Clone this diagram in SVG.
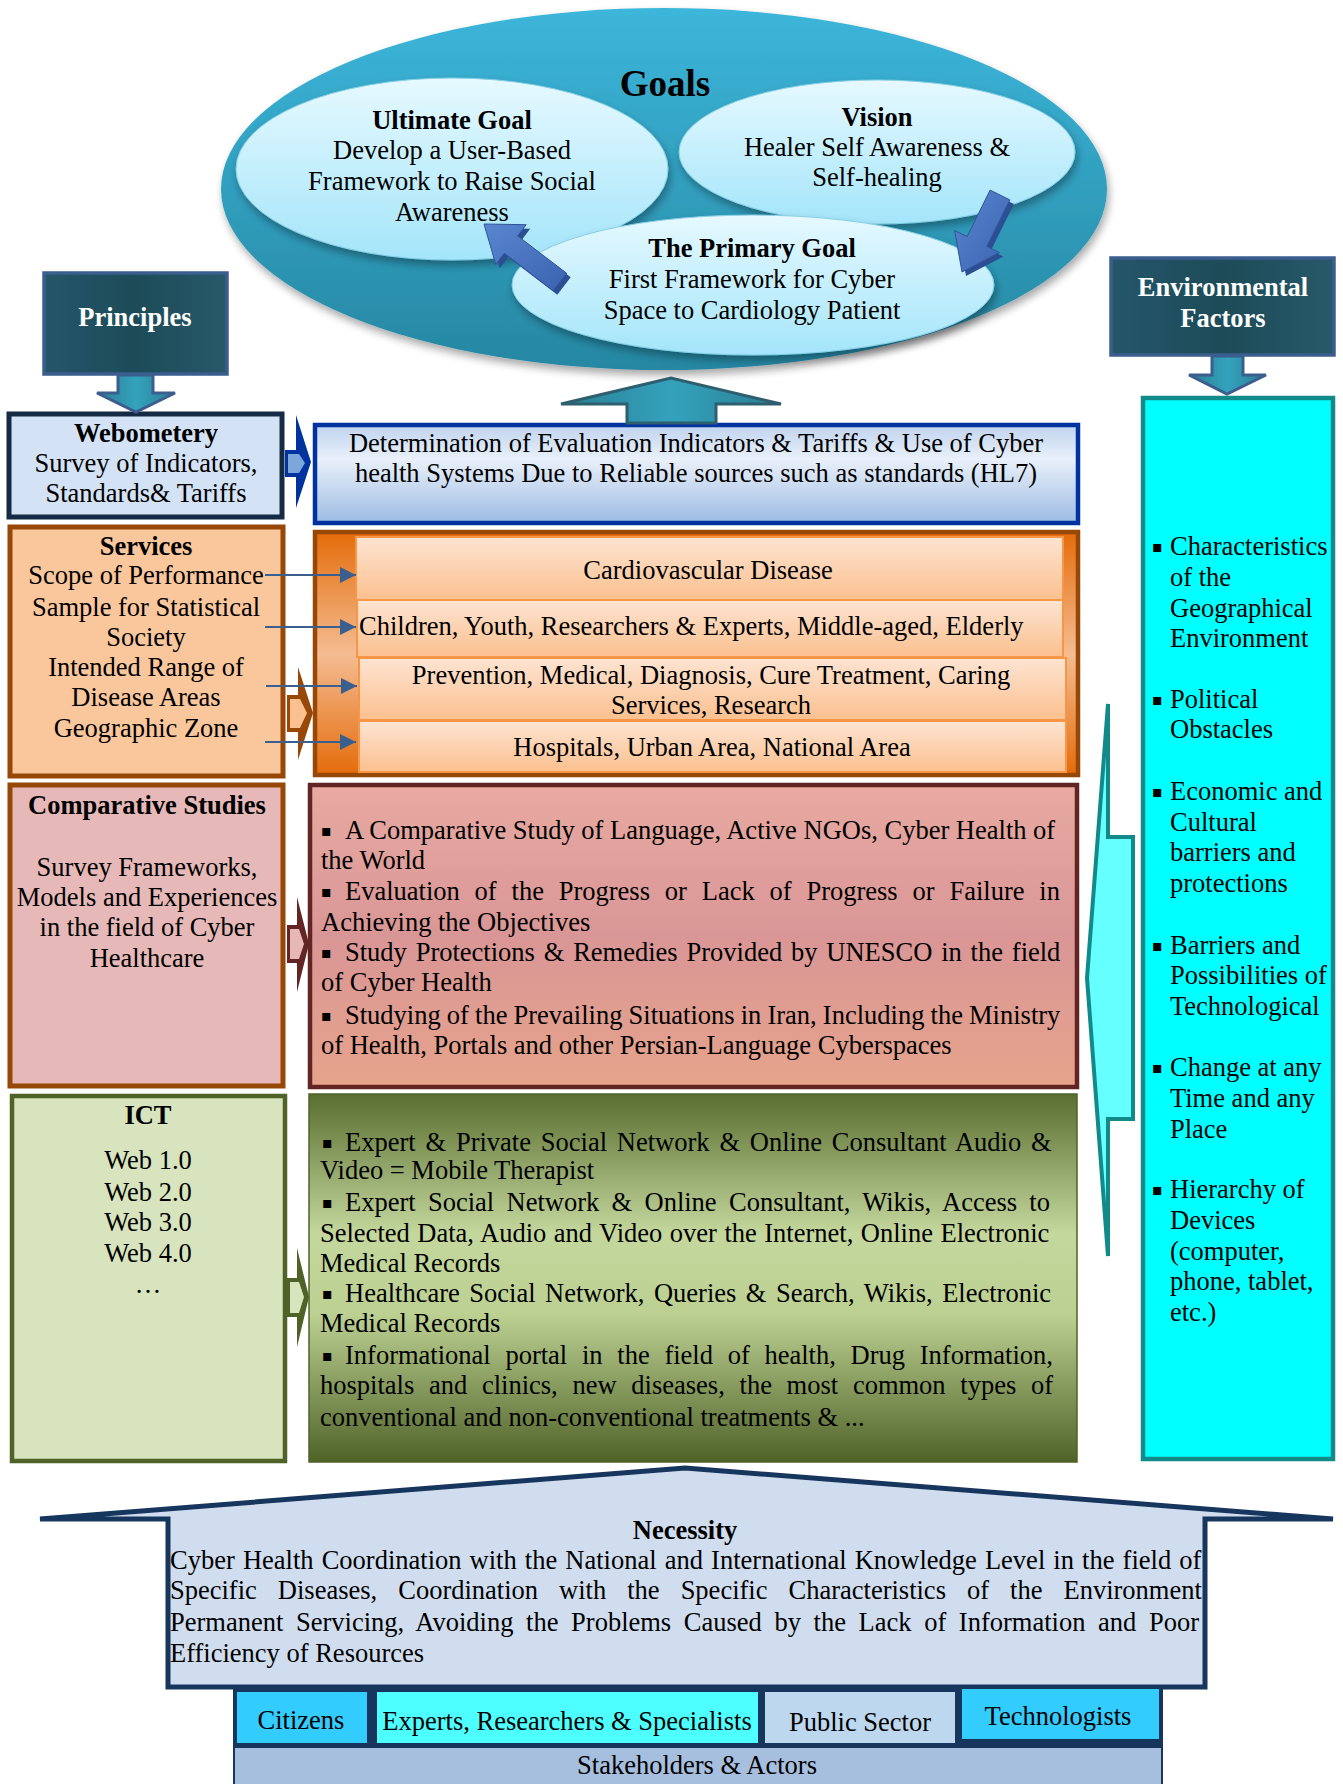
<svg xmlns="http://www.w3.org/2000/svg" width="1343" height="1784" viewBox="0 0 1343 1784">
<style>
.t{font-family:"Liberation Serif","Times New Roman",serif;font-size:26.5px;fill:#000}
.b{font-weight:bold}
.c{text-anchor:middle}
.w{fill:#fff}
.bl{font-family:"DejaVu Sans",sans-serif;font-size:16px;fill:#000}
.conn{stroke:#3A5F8F;stroke-width:2.2;fill:none}
</style>
<defs>
<linearGradient id="gBig" x1="0" y1="0" x2="0" y2="1"><stop offset="0" stop-color="#3CB6DA"/><stop offset="1" stop-color="#2687A2"/></linearGradient>
<linearGradient id="gSmall" x1="0" y1="0" x2="0" y2="1"><stop offset="0" stop-color="#E6F9FF"/><stop offset="1" stop-color="#A4E5FA"/></linearGradient>
<linearGradient id="gDark" x1="0" y1="0" x2="1" y2="0"><stop offset="0" stop-color="#24566A"/><stop offset="0.5" stop-color="#1D4B58"/><stop offset="1" stop-color="#27596A"/></linearGradient>
<linearGradient id="gTeal" x1="0" y1="0" x2="1" y2="0"><stop offset="0" stop-color="#2A7E92"/><stop offset="0.5" stop-color="#34A2BD"/><stop offset="1" stop-color="#2A7E92"/></linearGradient>
<linearGradient id="gDet" x1="0" y1="0" x2="0" y2="1"><stop offset="0" stop-color="#BFD3EE"/><stop offset="0.35" stop-color="#E9F0FA"/><stop offset="1" stop-color="#9DBBE3"/></linearGradient>
<linearGradient id="gOrange" x1="0" y1="0" x2="0" y2="1"><stop offset="0" stop-color="#E46C0A"/><stop offset="0.5" stop-color="#F4BC92"/><stop offset="1" stop-color="#E46C0A"/></linearGradient>
<linearGradient id="gRow" x1="0" y1="0" x2="0" y2="1"><stop offset="0" stop-color="#FDE4D2"/><stop offset="1" stop-color="#FBC08F"/></linearGradient>
<linearGradient id="gPink" x1="0" y1="0" x2="0" y2="1"><stop offset="0" stop-color="#E8AAA2"/><stop offset="0.5" stop-color="#D99696"/><stop offset="1" stop-color="#E6A38B"/></linearGradient>
<linearGradient id="gGreen" x1="0" y1="0" x2="0" y2="1"><stop offset="0" stop-color="#5A6E31"/><stop offset="0.38" stop-color="#C4D79D"/><stop offset="0.6" stop-color="#BCD092"/><stop offset="1" stop-color="#4F6228"/></linearGradient>
<linearGradient id="gBlueArrow" x1="0" y1="0" x2="1" y2="1"><stop offset="0" stop-color="#5A86D0"/><stop offset="1" stop-color="#3A62B0"/></linearGradient>
<filter id="sh" x="-10%" y="-10%" width="120%" height="130%"><feGaussianBlur in="SourceAlpha" stdDeviation="4"/><feOffset dx="2" dy="5" result="o"/><feComponentTransfer><feFuncA type="linear" slope="0.35"/></feComponentTransfer><feMerge><feMergeNode/><feMergeNode in="SourceGraphic"/></feMerge></filter>
<marker id="ah2" viewBox="0 0 10 10" refX="10" refY="5" markerWidth="16" markerHeight="16" markerUnits="userSpaceOnUse" orient="auto"><path d="M0,0 L10,5 L0,10 z" fill="#3A5F8F"/></marker>
</defs>

<g id="goals">
<ellipse cx="664" cy="189" rx="443" ry="181" fill="url(#gBig)" filter="url(#sh)"/>
<text class="t b c" x="665" y="96" style="font-size:37px">Goals</text>
</g>
<g id="ultimate-goal">
<ellipse cx="452" cy="169" rx="216" ry="91" fill="url(#gSmall)" stroke="#86CFE6" stroke-width="1" filter="url(#sh)"/>
<text class="t b c" x="452" y="129">Ultimate Goal</text>
<text class="t c" x="452" y="159">Develop a User-Based</text>
<text class="t c" x="452" y="190">Framework to Raise Social</text>
<text class="t c" x="452" y="221">Awareness</text>
</g>
<g id="vision">
<ellipse cx="877" cy="152" rx="198" ry="72" fill="url(#gSmall)" stroke="#86CFE6" stroke-width="1" filter="url(#sh)"/>
<text class="t b c" x="877" y="126">Vision</text>
<text class="t c" x="877" y="156">Healer Self Awareness &amp;</text>
<text class="t c" x="877" y="186">Self-healing</text>
</g>
<g id="primary-goal">
<ellipse cx="753" cy="285" rx="241" ry="70" fill="url(#gSmall)" stroke="#86CFE6" stroke-width="1" filter="url(#sh)"/>
<text class="t b c" x="752" y="257">The Primary Goal</text>
<text class="t c" x="752" y="288">First Framework for Cyber</text>
<text class="t c" x="752" y="319">Space to Cardiology Patient</text>
</g>

<g id="principles">
<rect x="44" y="273" width="183" height="101" fill="url(#gDark)" stroke="#3B5E8E" stroke-width="3.5"/>
<text class="t b c w" x="135" y="326">Principles</text>
</g>
<g id="environmental-factors">
<rect x="1111" y="258" width="223" height="97" fill="url(#gDark)" stroke="#3B5E8E" stroke-width="3.5"/>
<text class="t b c w" x="1223" y="296">Environmental</text>
<text class="t b c w" x="1223" y="327">Factors</text>
</g>

<g id="webometery">
<rect x="9" y="414" width="273" height="103" fill="#D3E2F4" stroke="#152A45" stroke-width="5"/>
<text class="t b c" x="146" y="442">Webometery</text>
<text class="t c" x="146" y="472">Survey of Indicators,</text>
<text class="t c" x="146" y="502">Standards&amp; Tariffs</text>
</g>
<g id="determination">
<rect x="315" y="425" width="763" height="98" fill="url(#gDet)" stroke="#0033A0" stroke-width="4.5"/>
<text class="t c" x="696" y="452">Determination of Evaluation Indicators &amp; Tariffs &amp; Use of Cyber</text>
<text class="t c" x="696" y="482">health Systems Due to Reliable sources such as standards (HL7)</text>
</g>

<g id="services">
<rect x="10" y="527" width="273" height="249" fill="#FAC69C" stroke="#974706" stroke-width="5"/>
<text class="t b c" x="146" y="555">Services</text>
<text class="t c" x="146" y="584">Scope of Performance</text>
<text class="t c" x="146" y="616">Sample for Statistical</text>
<text class="t c" x="146" y="646">Society</text>
<text class="t c" x="146" y="676">Intended Range of</text>
<text class="t c" x="146" y="706">Disease Areas</text>
<text class="t c" x="146" y="737">Geographic Zone</text>
</g>
<g id="services-detail">
<rect x="315" y="532" width="763" height="243" fill="url(#gOrange)" stroke="#974706" stroke-width="4.5"/>
<rect x="356" y="537" width="707" height="63" fill="url(#gRow)" stroke="#F79646" stroke-width="2"/>
<rect x="357" y="600" width="706" height="57" fill="url(#gRow)" stroke="#F79646" stroke-width="2"/>
<rect x="359" y="658" width="707" height="62" fill="url(#gRow)" stroke="#F79646" stroke-width="2"/>
<rect x="359" y="721" width="707" height="51" fill="url(#gRow)" stroke="#F79646" stroke-width="2"/>
<text class="t c" x="708" y="579">Cardiovascular Disease</text>
<text class="t" x="359" y="635">Children, Youth, Researchers &amp; Experts, Middle-aged, Elderly</text>
<text class="t c" x="711" y="684">Prevention, Medical, Diagnosis, Cure Treatment, Caring</text>
<text class="t c" x="711" y="714">Services, Research</text>
<text class="t c" x="712" y="756">Hospitals, Urban Area, National Area</text>
</g>

<g id="comparative-studies">
<rect x="10" y="785" width="273" height="301" fill="#E6B9B8" stroke="#974706" stroke-width="5"/>
<text class="t b c" x="147" y="814">Comparative Studies</text>
<text class="t c" x="147" y="876">Survey Frameworks,</text>
<text class="t c" x="147" y="906">Models and Experiences</text>
<text class="t c" x="147" y="936">in the field of Cyber</text>
<text class="t c" x="147" y="967">Healthcare</text>
</g>
<g id="comparative-detail">
<rect x="310" y="785" width="767" height="302" fill="url(#gPink)" stroke="#632523" stroke-width="4.5"/>
<text class="bl" x="321" y="836">▪</text>
<text class="t" x="345" y="839">A Comparative Study of Language, Active NGOs, Cyber Health of</text>
<text class="t" x="321" y="869">the World</text>
<text class="bl" x="321" y="897">▪</text>
<text class="t" x="345" y="900" word-spacing="8.2">Evaluation of the Progress or Lack of Progress or Failure in</text>
<text class="t" x="321" y="931">Achieving the Objectives</text>
<text class="bl" x="321" y="958">▪</text>
<text class="t" x="345" y="961" word-spacing="2.2">Study Protections &amp; Remedies Provided by UNESCO in the field</text>
<text class="t" x="321" y="991">of Cyber Health</text>
<text class="bl" x="321" y="1021">▪</text>
<text class="t" x="345" y="1024" word-spacing="-0.5">Studying of the Prevailing Situations in Iran, Including the Ministry</text>
<text class="t" x="321" y="1054">of Health, Portals and other Persian-Language Cyberspaces</text>
</g>

<g id="ict">
<rect x="12" y="1096" width="273" height="365" fill="#D7E4BD" stroke="#4F6228" stroke-width="4.5"/>
<text class="t b c" x="148" y="1124">ICT</text>
<text class="t c" x="148" y="1169">Web 1.0</text>
<text class="t c" x="148" y="1201">Web 2.0</text>
<text class="t c" x="148" y="1231">Web 3.0</text>
<text class="t c" x="148" y="1262">Web 4.0</text>
<text class="t c" x="148" y="1293">…</text>
</g>
<g id="ict-detail">
<rect x="309" y="1094" width="768" height="368" fill="url(#gGreen)" stroke="#4F6228" stroke-width="1.5"/>
<text class="bl" x="322" y="1148">▪</text>
<text class="t" x="345" y="1151" word-spacing="3.2">Expert &amp; Private Social Network &amp; Online Consultant Audio &amp;</text>
<text class="t" x="320" y="1179">Video = Mobile Therapist</text>
<text class="bl" x="322" y="1208">▪</text>
<text class="t" x="345" y="1211" word-spacing="5.7">Expert Social Network &amp; Online Consultant, Wikis, Access to</text>
<text class="t" x="320" y="1242" word-spacing="0.9">Selected Data, Audio and Video over the Internet, Online Electronic</text>
<text class="t" x="320" y="1272">Medical Records</text>
<text class="bl" x="322" y="1299">▪</text>
<text class="t" x="345" y="1302" word-spacing="2.9">Healthcare Social Network, Queries &amp; Search, Wikis, Electronic</text>
<text class="t" x="320" y="1332">Medical Records</text>
<text class="bl" x="322" y="1361">▪</text>
<text class="t" x="345" y="1364" word-spacing="8.1">Informational portal in the field of health, Drug Information,</text>
<text class="t" x="320" y="1394" word-spacing="8.1">hospitals and clinics, new diseases, the most common types of</text>
<text class="t" x="320" y="1426">conventional and non-conventional treatments &amp; ...</text>
</g>

<g id="environment-list">
<rect x="1143" y="398" width="190" height="1061" fill="#00FFFF" stroke="#138A8A" stroke-width="4.5"/>
<text class="bl" x="1152" y="552">▪</text><text class="t" x="1170" y="555">Characteristics</text>
<text class="t" x="1170" y="586">of the</text>
<text class="t" x="1170" y="617">Geographical</text>
<text class="t" x="1170" y="647">Environment</text>
<text class="bl" x="1152" y="705">▪</text><text class="t" x="1170" y="708">Political</text>
<text class="t" x="1170" y="738">Obstacles</text>
<text class="bl" x="1152" y="797">▪</text><text class="t" x="1170" y="800">Economic and</text>
<text class="t" x="1170" y="831">Cultural</text>
<text class="t" x="1170" y="861">barriers and</text>
<text class="t" x="1170" y="892">protections</text>
<text class="bl" x="1152" y="951">▪</text><text class="t" x="1170" y="954">Barriers and</text>
<text class="t" x="1170" y="984">Possibilities of</text>
<text class="t" x="1170" y="1015">Technological</text>
<text class="bl" x="1152" y="1073">▪</text><text class="t" x="1170" y="1076">Change at any</text>
<text class="t" x="1170" y="1107">Time and any</text>
<text class="t" x="1170" y="1138">Place</text>
<text class="bl" x="1152" y="1195">▪</text><text class="t" x="1170" y="1198">Hierarchy of</text>
<text class="t" x="1170" y="1229">Devices</text>
<text class="t" x="1170" y="1260">(computer,</text>
<text class="t" x="1170" y="1290">phone, tablet,</text>
<text class="t" x="1170" y="1321">etc.)</text>
</g>

<g id="necessity">
<polygon points="40,1519 685,1468 1333,1519 1205,1519 1205,1687 168,1687 168,1519" fill="#D0DDEE" stroke="#17365D" stroke-width="5" stroke-linejoin="miter"/>
<text class="t b c" x="685" y="1539">Necessity</text>
<text class="t" x="170" y="1569" word-spacing="1.5">Cyber Health Coordination with the National and International Knowledge Level in the field of</text>
<text class="t" x="170" y="1599" word-spacing="14.4">Specific Diseases, Coordination with the Specific Characteristics of the Environment</text>
<text class="t" x="170" y="1631" word-spacing="6">Permanent Servicing, Avoiding the Problems Caused by the Lack of Information and Poor</text>
<text class="t" x="170" y="1662">Efficiency of Resources</text>
</g>

<g id="stakeholders">
<rect x="233" y="1686" width="930" height="98" fill="#17365D"/>
<rect x="237" y="1692" width="130" height="51" fill="#33CCFF"/>
<rect x="377" y="1692" width="381" height="51" fill="#4DFFFF"/>
<rect x="765" y="1692" width="190" height="51" fill="#BDD7EE"/>
<rect x="962" y="1689" width="197" height="50" fill="#33CCFF"/>
<rect x="235" y="1748" width="926" height="36" fill="#A6BFDE"/>
<text class="t c" x="301" y="1729">Citizens</text>
<text class="t c" x="567" y="1730">Experts, Researchers &amp; Specialists</text>
<text class="t c" x="860" y="1731">Public Sector</text>
<text class="t c" x="1058" y="1725">Technologists</text>
<text class="t c" x="697" y="1774">Stakeholders &amp; Actors</text>
</g>

<g id="connectors">
<polygon points="570.7,277.3 521.7,239.9 530.2,228.7 488,228 499.8,268.5 508.3,257.3 557.3,294.7" fill="#2C4F94"/>
<polygon points="566.7,273.3 517.7,235.9 526.2,224.7 484,224 495.8,264.5 504.3,253.3 553.3,290.7" fill="url(#gBlueArrow)" stroke="#2F5597" stroke-width="1"/>
<polygon points="994.1,194.1 971.1,240.6 958.6,234.5 966,276 1003.4,256.6 990.9,250.4 1013.9,203.9" fill="#2C4F94"/>
<polygon points="990.1,190.1 967.1,236.6 954.6,230.5 962,272 999.4,252.6 986.9,246.4 1009.9,199.9" fill="url(#gBlueArrow)" stroke="#2F5597" stroke-width="1"/>
<polygon points="118,375 153,375 153,393 175,393 136,412 97,393 118,393" fill="url(#gTeal)" stroke="#3B5E8E" stroke-width="3"/>
<polygon points="1212,356 1243,356 1243,375 1266,375 1227,394 1189,375 1212,375" fill="url(#gTeal)" stroke="#3B5E8E" stroke-width="3"/>
<polygon points="627,423 716,423 716,404 781,404 671,378 561,404 627,404" fill="url(#gTeal)" stroke="#2D5F6E" stroke-width="3"/>
<polygon points="285,450 296,450 296,415 311,462 296,508 296,477 285,477" fill="#0033A0"/>
<polygon points="288,454 299,454 305,463 299,473 288,473" fill="#7DA6DB"/>
<polygon points="287,695 298,695 298,667 313,713 298,760 298,732 287,732" fill="#974706"/>
<polygon points="290,699 300,699 307,713 300,728 290,728" fill="#FAC090"/>
<polygon points="287,925 297,925 297,897 309,944 297,992 297,963 287,963" fill="#632523"/>
<polygon points="290,929 299,929 304,944 299,959 290,959" fill="#E6B9B8"/>
<polygon points="287,1278 297,1278 297,1248 309,1297 297,1347 297,1317 287,1317" fill="#4F6228"/>
<polygon points="290,1282 299,1282 304,1297 299,1313 290,1313" fill="#D7E4BD"/>
<line class="conn" x1="265" y1="575" x2="356" y2="575" marker-end="url(#ah2)"/>
<line class="conn" x1="265" y1="627" x2="356" y2="627" marker-end="url(#ah2)"/>
<line class="conn" x1="266" y1="686" x2="357" y2="686" marker-end="url(#ah2)"/>
<line class="conn" x1="265" y1="742" x2="356" y2="742" marker-end="url(#ah2)"/>
<polygon points="1108,704 1108,837 1133,837 1133,1119 1108,1119 1108,1256 1087,978" fill="#66FFFF" stroke="#138A8A" stroke-width="4"/>
</g>
</svg>
